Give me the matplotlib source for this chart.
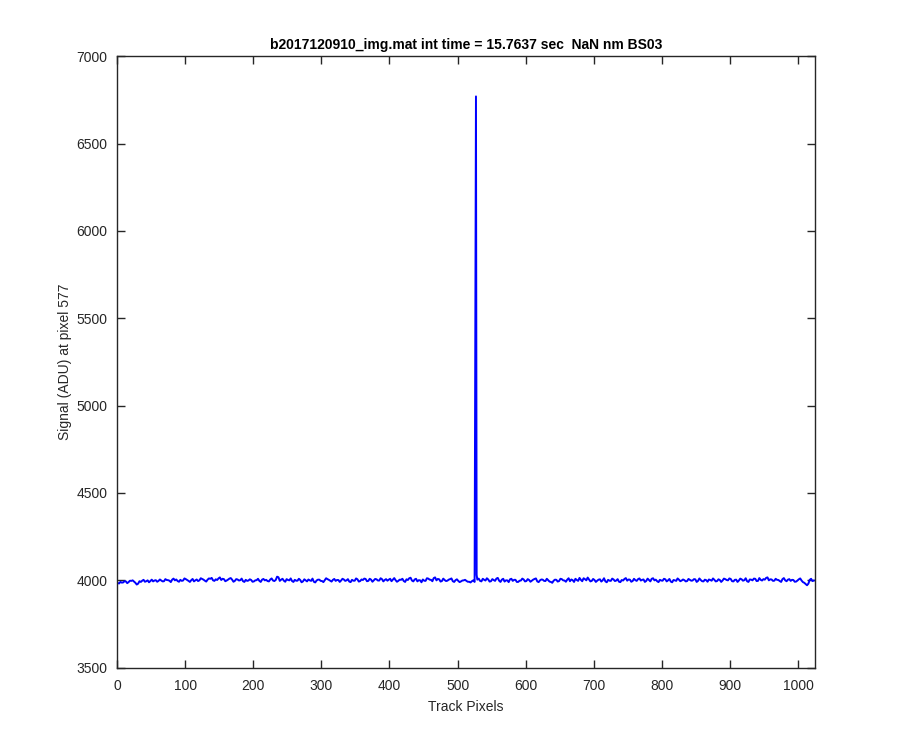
import numpy as np
import matplotlib
matplotlib.use("Agg")
import matplotlib.pyplot as plt

plt.rcParams['font.family'] = ['Liberation Sans', 'DejaVu Sans']

# Signal sampled at track pixels 1, 5, 9, ... 1021
pixels_a = list(range(1, 1025, 4))
signal_a = [
    3984, 3990, 3987, 3993, 3989, 3996, 3992, 3975, 3994, 3997, 3991, 3999, 3995, 3993, 4000, 3996,
    3998, 3994, 4001, 3997, 4003, 3999, 3995, 4002, 3998, 4006, 3996, 4000, 3993, 4004, 3999, 4007,
    3997, 4003, 4008, 3999, 4005, 4010, 4001, 4006, 3998, 4009, 4003, 3996, 4004, 4000, 3994, 4002,
    3998, 4001, 3993, 4000, 3996, 4003, 3999, 3995, 4004, 3998, 4001, 4017, 4003, 3997, 4006, 3999,
    3995, 4002, 3997, 4001, 3993, 3999, 4004, 3996, 3991, 3998, 4003, 3995, 4000, 4006, 3997, 4002,
    3996, 4001, 3998, 4004, 3999, 3992, 4002, 3997, 4005, 3995, 4001, 4007, 3996, 4003, 3999, 4005,
    3998, 4006, 4001, 3997, 4008, 4003, 4000, 3996, 4002, 3995, 4005, 4011, 3998, 4004, 3993, 3999,
    4004, 3996, 4009, 4002, 4012, 3999, 4005, 3995, 4001, 3997, 4006, 3994, 4000, 3996, 3993, 3999,
    3996, 3991, 3994, 3990, 4003, 3996, 4008, 3998, 4004, 3994, 4001, 4009, 3997, 4003, 3992, 3999,
    4005, 3996, 4002, 3990, 3998, 4004, 3995, 4001, 3997, 4007, 3993, 3999, 4003, 3995, 4000, 3990,
    3997, 4002, 3995, 4006, 3998, 4003, 3994, 4000, 4008, 3996, 4002, 4011, 3999, 4004, 3996, 4001,
    3997, 4005, 3999, 3993, 4002, 3996, 4004, 3998, 3991, 4001, 4007, 3997, 4003, 3995, 4000, 4006,
    3998, 4004, 3996, 4001, 4008, 3999, 3994, 4002, 3997, 4005, 3999, 3992, 4001, 3996, 4003, 3998,
    4000, 3995, 4002, 3998, 4005, 3996, 4001, 3993, 4000, 4004, 3997, 4002, 3995, 4001, 3998, 4006,
    3999, 4007, 3993, 4003, 3998, 4005, 4000, 3994, 4004, 3999, 4008, 3996, 4002, 4006, 4013, 3999,
    4004, 3997, 4002, 3995, 4006, 3999, 4003, 3996, 4001, 3992, 4005, 3998, 3985, 3971, 4002, 3995,
]

# Signal sampled at track pixels 3, 7, 11, ... 1023
pixels_b = list(range(3, 1025, 4))
signal_b = [
    3981, 3986, 3994, 3983, 3997, 3999, 3985, 3980, 3990, 4002, 3994, 3988, 4003, 3998, 3991, 4004,
    3993, 4006, 4000, 3989, 4009, 4004, 3991, 3996, 4010, 4001, 3990, 4007, 3999, 3995, 4011, 4003,
    3992, 4010, 4013, 3996, 4001, 4016, 4008, 3994, 4003, 4012, 3991, 4006, 3998, 4009, 3990, 3996,
    4005, 3991, 3999, 4008, 3990, 4007, 4002, 3993, 4010, 3995, 4020, 3996, 4008, 3991, 4001, 4010,
    3990, 3997, 4008, 3988, 4005, 3993, 3999, 4009, 3987, 4003, 3996, 3989, 4011, 4002, 3992, 4007,
    4001, 3990, 4008, 3996, 4006, 3989, 3997, 4010, 3992, 4004, 4009, 3994, 4008, 3991, 4007, 3998,
    4011, 3993, 4006, 4003, 3994, 4012, 3991, 4003, 4008, 3990, 4001, 4014, 3993, 4008, 4000, 3988,
    3997, 4011, 4003, 3994, 4016, 4007, 3992, 4009, 3995, 4003, 4010, 3990, 4005, 3989, 3998, 4002,
    3991, 3987, 3999, 3995, 4009, 3993, 4002, 4011, 3992, 4006, 3996, 4013, 3990, 4008, 3999, 3989,
    4008, 4002, 3990, 3997, 4009, 3993, 4006, 3991, 4003, 4010, 3989, 4004, 3996, 4008, 3992, 3985,
    4003, 3992, 4008, 3999, 3991, 4011, 4004, 3990, 4001, 4013, 3994, 4006, 4015, 3993, 4007, 3990,
    4003, 3992, 4011, 3988, 3997, 4009, 3995, 4006, 3989, 3998, 4012, 4004, 3991, 4008, 3996, 4010,
    4002, 3990, 4009, 3993, 4011, 4003, 3989, 3998, 4008, 3993, 4007, 3988, 3999, 4010, 3994, 4004,
    3993, 4007, 3997, 4006, 3990, 4010, 3994, 4003, 3991, 4001, 4010, 3993, 4005, 3990, 4009, 4001,
    4010, 3994, 4002, 3990, 4009, 3997, 4011, 3990, 4003, 4009, 3995, 4012, 3998, 4003, 4016, 4005,
    3996, 4008, 4001, 3990, 4012, 3994, 4006, 4002, 3991, 3998, 4010, 3989, 3978, 3980, 4008, 3998,
]

# Cosmic-ray spike (overrides the samples above)
spike_pixels = [527, 528]
spike_signal = [6770, 4030]

title_text = "b2017120910_img.mat int time = 15.7637 sec  NaN nm BS03"
x_label = "Track Pixels"
y_label = "Signal (ADU) at pixel 577"
x_ticks = [0, 100, 200, 300, 400, 500, 600, 700, 800, 900, 1000]
y_ticks = [3500, 4000, 4500, 5000, 5500, 6000, 6500, 7000]

merged = dict(zip(pixels_a, signal_a))
merged.update(zip(pixels_b, signal_b))
merged.update(zip(spike_pixels, spike_signal))
px = np.array(sorted(merged))
sig = np.array([merged[p] for p in px])

fig = plt.figure(figsize=(9, 7.5), dpi=100)
ax = fig.add_axes([0.13, 0.11, 0.775, 0.815])
ax.plot(px, sig, color=(0, 0, 1), linewidth=1.4)

ax.set_xlim(0, 1024)
ax.set_ylim(3500, 7000)
ax.set_xticks(x_ticks)
ax.set_yticks(y_ticks)

edge = '#262626'
for s in ax.spines.values():
    s.set_color(edge)
    s.set_linewidth(1.0)
ax.tick_params(direction='in', length=6, width=1.0, colors=edge,
               labelcolor='#262626', labelsize=10, top=True, right=True)
ax.tick_params(axis='x', pad=8)
ax.tick_params(axis='y', pad=7)

ax.set_xlabel(x_label, fontsize=10, color='#262626', labelpad=5)
ax.set_ylabel(y_label, fontsize=10, color='#262626', labelpad=3)
ax.set_title(title_text, fontsize=10, fontweight='bold', color='black', pad=5)

fig.savefig("out.png", dpi=100, facecolor='white')
